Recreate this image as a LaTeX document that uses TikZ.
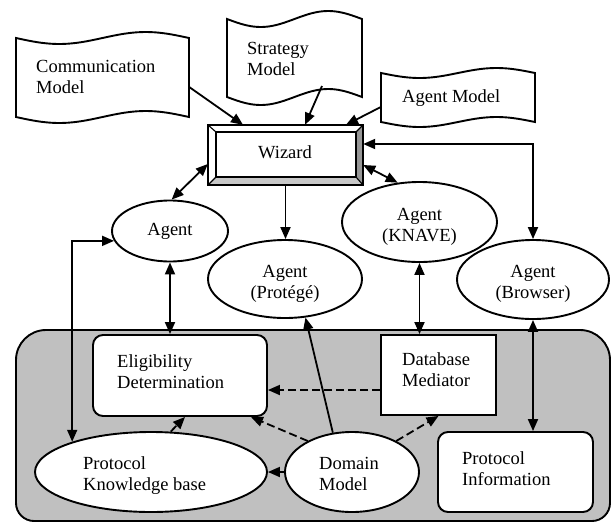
\documentclass[tikz,border=0pt]{standalone}
\usepackage{fontspec}
\setmainfont{Liberation Serif}
\usetikzlibrary{arrows.meta,shapes.geometric}

\definecolor{bggray}{RGB}{192,192,192}
\definecolor{bevdark}{RGB}{150,150,150}
\definecolor{bevlight}{RGB}{200,200,200}

% two-line labels whose reference point is the first baseline
\newcommand\twolines[2]{\begin{tabular}[t]{@{}l@{}}#1\\#2\end{tabular}}
\newcommand\twolinesc[2]{\begin{tabular}[t]{@{}c@{}}#1\\#2\end{tabular}}

% punched-tape outline: left, right, top, bottom, wave amplitude
\newcommand\tapeshape[5]{%
  \draw[shapeline, fill=white]
    plot[domain=0:1, samples=41, smooth] ({#1+(#2-#1)*\x},{#3+#5*sin(360*\x)})
    -- plot[domain=1:0, samples=41, smooth] ({#1+(#2-#1)*\x},{#4+#5*sin(360*\x)})
    -- cycle;}

\begin{document}
\begin{tikzpicture}[x=1pt, y=-1pt,
  lbl/.style={font=\fontsize{18.5}{21.5}\selectfont, inner sep=0pt},
  shapeline/.style={line width=1.9pt, draw=black},
  ell/.style={ellipse, shapeline, fill=white, inner sep=0pt},
  plainbox/.style={rectangle, shapeline, fill=white, inner sep=0pt},
  rbox/.style={plainbox, rounded corners=10pt},
  holder/.style={rectangle, inner sep=0pt, draw=none},
  conn/.style={line width=1.8pt, -{Triangle[length=12pt,width=10pt]}},
  biconn/.style={line width=1.8pt, {Triangle[length=12pt,width=10pt]}-{Triangle[length=12pt,width=10pt]}},
  dconn/.style={conn, dash pattern=on 8pt off 4pt}]

\path[use as bounding box] (0,0) rectangle (611,523);

% shaded system area
\draw[shapeline, fill=bggray] (16,450) [rounded corners=30pt] -- (16,330) -- (610,330) -- (610,450)
  [rounded corners=18pt] -- (610,521) -- (16,521) -- cycle;

% model documents
\tapeshape{16}{189}{38}{117}{6}
\tapeshape{227}{362}{19}{97}{8}
\tapeshape{381}{535}{73}{122}{5}
\node[holder, minimum width=173pt, minimum height=79pt] (comm) at (102.5,77.5) {};
\node[holder, minimum width=135pt, minimum height=78pt] (strat) at (294.5,58) {};
\node[holder, minimum width=154pt, minimum height=49pt] (agm) at (458,97.5) {};

% wizard with bevelled frame
\node[holder, fill=white, minimum width=155pt, minimum height=60pt] (wiz) at (285.5,155) {};
\fill[bevdark] (356,132) -- (363,125) -- (363,185) -- (356,177) -- cycle;
\fill[bevlight] (216,177) -- (356,177) -- (363,185) -- (208,185) -- cycle;
\draw[shapeline] (208,125) rectangle (363,185);
\draw[line width=1.4pt] (216,132) rectangle (356,177);
\draw[line width=1.1pt] (208,125) -- (216,132) (363,125) -- (356,132)
  (208,185) -- (216,177) (363,185) -- (356,177);

% agents
\node[ell, minimum width=116pt, minimum height=61pt] (agent) at (170,231) {};
\node[ell, minimum width=154pt, minimum height=78pt] (prot) at (285,279) {};
\node[ell, minimum width=155pt, minimum height=80pt] (knave) at (419.5,222) {};
\node[ell, minimum width=152pt, minimum height=79pt] (brow) at (533,279.5) {};

% system components
\node[rbox, minimum width=174pt, minimum height=81pt] (elig) at (180,375.5) {};
\node[plainbox, minimum width=115pt, minimum height=80pt] (dbm) at (438.5,375) {};
\node[rbox, minimum width=155pt, minimum height=80pt] (pinfo) at (515.5,472) {};
\node[ell, minimum width=232pt, minimum height=80pt] (pkb) at (151,472) {};
\node[ell, minimum width=134pt, minimum height=80pt] (dom) at (352,472) {};

% labels
\node[lbl, anchor=base west] (commT) at (36,72) {\twolines{Communication}{Model}};
\node[lbl, anchor=base west] (stratT) at (247,54) {\twolines{Strategy}{Model}};
\node[lbl, anchor=base west] (agmT) at (402,102) {Agent Model};
\node[lbl, anchor=base] (wizT) at (285,158) {Wizard};
\node[lbl, anchor=base] (agentT) at (170,235) {Agent};
\node[lbl, anchor=base] (protT) at (285,277) {\twolinesc{Agent}{(Protégé)}};
\node[lbl, anchor=base] (knaveT) at (419.5,220) {\twolinesc{Agent}{(KNAVE)}};
\node[lbl, anchor=base] (browT) at (533,277) {\twolinesc{Agent}{(Browser)}};
\node[lbl, anchor=base west] (eligT) at (117,367) {\twolines{Eligibility}{Determination}};
\node[lbl, anchor=base west] (dbmT) at (402,365) {\twolines{Database}{Mediator}};
\node[lbl, anchor=base west] (pinfoT) at (462,464) {\twolines{Protocol}{Information}};
\node[lbl, anchor=base west] (pkbT) at (83,469) {\twolines{Protocol}{Knowledge base}};
\node[lbl, anchor=base west] (domT) at (319,469) {\twolines{Domain}{Model}};

% connectors
\draw[conn] ([yshift=-9.5pt]comm.east) -- ([xshift=-42.5pt]wiz.north);
\draw[conn] ([xshift=27.5pt,yshift=-28pt]strat.center) -- ([xshift=19.5pt]wiz.north);
\draw[conn] ([yshift=-9.5pt]agm.west) -- ([xshift=60.5pt]wiz.north);
\draw[biconn] ([yshift=-9pt]wiz.west) -- (agent.87);
\draw[conn] (wiz.south) -- (wiz.south |- prot.north);
\draw[biconn] ([yshift=-10pt]wiz.east) -- (knave.119);
\draw[biconn] (brow.north) |- ([yshift=11pt]wiz.east);
\draw[biconn] (agent.south) -- (agent.south |- elig.north);
\draw[biconn] (knave.south) -- (knave.south |- dbm.north);
\draw[biconn] (brow.south) -- (brow.south |- pinfo.north);
\draw[biconn] (agent.190) -| (pkb.159);
\draw[conn] (dom.116) -- (prot.298);
\draw[conn] (dom.west) -- (pkb.east);
\draw[dconn] ([yshift=-15pt]dbm.west) -- ([yshift=-15pt]dbm.west -| elig.east);
\draw[dconn] (dom.145) -- ([xshift=-17pt]elig.south east);
\draw[dconn] (dom.35) -- (dbm.south);
\draw[dconn] (pkb.64) -- ([xshift=5pt]elig.south);

\end{tikzpicture}
\end{document}
